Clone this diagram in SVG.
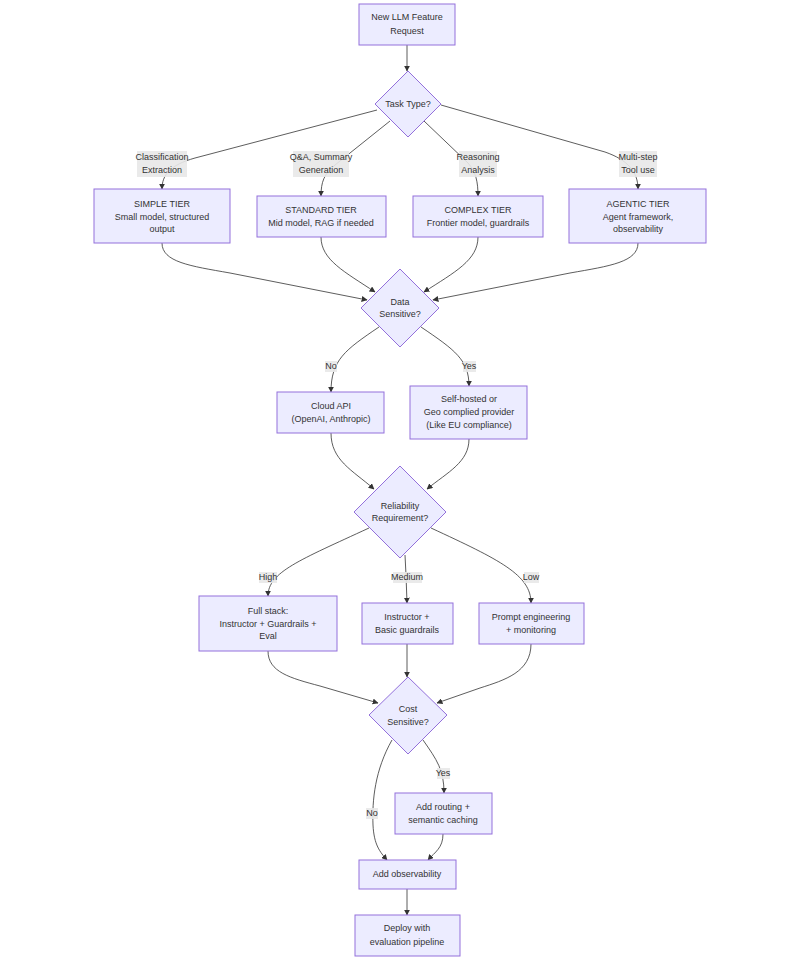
<svg xmlns="http://www.w3.org/2000/svg" width="800" height="960" viewBox="0 0 800 960">
<defs>
<marker id="arr" viewBox="0 0 10 10" refX="9" refY="5" markerWidth="6" markerHeight="6" orient="auto" markerUnits="userSpaceOnUse">
<path d="M0,0 L10,5 L0,10 z" fill="#333"/>
</marker>
<style>
.n{fill:#ECECFF;stroke:#9370DB;stroke-width:1}
.t{font-family:"Liberation Sans",Arial,sans-serif;font-size:9px;fill:#333;text-anchor:middle}
.e{fill:none;stroke:#333;stroke-width:0.8;marker-end:url(#arr)}
.lb{fill:#e8e8e8;opacity:0.9}
</style>
</defs>
<rect width="800" height="960" fill="#fff"/>
<g id="edges">
<path class="e" d="M407,45 L407,71"/>
<path class="e" d="M377,110 L195,158 C170,165 162,175 162,189"/>
<path class="e" d="M390,121 L335,165 C324,174 321,182 321,196"/>
<path class="e" d="M424,121 L468,163 C476,172 478,182 478,196"/>
<path class="e" d="M441,105 L605,152 C628,160 638,172 638,189"/>
<path class="e" d="M162,243 C162,262 190,266 230,273 L367,300"/>
<path class="e" d="M321,237 C321,260 345,272 375,292"/>
<path class="e" d="M478,237 C478,260 455,272 424,292"/>
<path class="e" d="M638,243 C638,262 610,266 570,273 L433,300"/>
<path class="e" d="M379,327 C345,350 331,360 331,392"/>
<path class="e" d="M421,327 C455,350 469,360 469,386"/>
<path class="e" d="M331,433 C331,460 352,470 374,489"/>
<path class="e" d="M469,439 C469,462 448,472 427,489"/>
<path class="e" d="M369,528 C300,560 268,572 268,596"/>
<path class="e" d="M405,555 L406,575 L407,603"/>
<path class="e" d="M431,528 C500,560 531,575 531,603"/>
<path class="e" d="M268,651 C268,672 290,678 320,686 L378,703"/>
<path class="e" d="M407,644 L407,677"/>
<path class="e" d="M531,644 C531,672 505,680 480,688 L437,703"/>
<path class="e" d="M423,740 C437,760 444,770 444,793"/>
<path class="e" d="M392,740 C375,770 372,800 373,825 C374,845 380,852 387,860"/>
<path class="e" d="M443,834 C443,848 435,852 428,860"/>
<path class="e" d="M407,889 L407,915"/>
</g>
<g id="edge-labels">
<g><rect class="lb" x="137" y="151" width="50" height="26"/><text class="t" x="162" y="160">Classification</text><text class="t" x="162" y="173">Extraction</text></g>
<g><rect class="lb" x="293" y="151" width="56" height="26"/><text class="t" x="321" y="160">Q&amp;A, Summary</text><text class="t" x="321" y="173">Generation</text></g>
<g><rect class="lb" x="459" y="151" width="38" height="26"/><text class="t" x="478" y="160">Reasoning</text><text class="t" x="478" y="173">Analysis</text></g>
<g><rect class="lb" x="619" y="151" width="38" height="26"/><text class="t" x="638" y="160">Multi-step</text><text class="t" x="638" y="173">Tool use</text></g>
<g><rect class="lb" x="325" y="361" width="12" height="11"/><text class="t" x="331" y="369">No</text></g>
<g><rect class="lb" x="463" y="361" width="13" height="11"/><text class="t" x="469" y="369">Yes</text></g>
<g><rect class="lb" x="259" y="572" width="18" height="11"/><text class="t" x="268" y="580">High</text></g>
<g><rect class="lb" x="393" y="572" width="29" height="11"/><text class="t" x="407" y="580">Medium</text></g>
<g><rect class="lb" x="524" y="572" width="15" height="11"/><text class="t" x="531" y="580">Low</text></g>
<g><rect class="lb" x="437" y="768" width="13" height="11"/><text class="t" x="443" y="776">Yes</text></g>
<g><rect class="lb" x="366" y="808" width="12" height="11"/><text class="t" x="372" y="816">No</text></g>
</g>
<g id="start"><rect class="n" x="359" y="4" width="96" height="41"/><text class="t" x="407" y="20">New LLM Feature</text><text class="t" x="407" y="34">Request</text></g>
<g id="task"><polygon class="n" points="408,71 441,104 408,137 375,104"/><text class="t" x="408" y="107">Task Type?</text></g>
<g id="simple"><rect class="n" x="94" y="189" width="136" height="54"/><text class="t" x="162" y="207">SIMPLE TIER</text><text class="t" x="162" y="220">Small model, structured</text><text class="t" x="162" y="232">output</text></g>
<g id="standard"><rect class="n" x="257" y="196" width="129" height="41"/><text class="t" x="321" y="213">STANDARD TIER</text><text class="t" x="321" y="226">Mid model, RAG if needed</text></g>
<g id="complex"><rect class="n" x="413" y="196" width="130" height="41"/><text class="t" x="478" y="213">COMPLEX TIER</text><text class="t" x="478" y="226">Frontier model, guardrails</text></g>
<g id="agentic"><rect class="n" x="569" y="189" width="137" height="54"/><text class="t" x="638" y="207">AGENTIC TIER</text><text class="t" x="638" y="220">Agent framework,</text><text class="t" x="638" y="232">observability</text></g>
<g id="data"><polygon class="n" points="400,269 439,308 400,347 361,308"/><text class="t" x="400" y="305">Data</text><text class="t" x="400" y="317">Sensitive?</text></g>
<g id="cloud"><rect class="n" x="277" y="392" width="107" height="41"/><text class="t" x="331" y="409">Cloud API</text><text class="t" x="331" y="422">(OpenAI, Anthropic)</text></g>
<g id="selfhosted"><rect class="n" x="410" y="386" width="117" height="53"/><text class="t" x="469" y="402">Self-hosted or</text><text class="t" x="469" y="415">Geo complied provider</text><text class="t" x="469" y="428">(Like EU compliance)</text></g>
<g id="reliability"><polygon class="n" points="400,466 446,512 400,558 354,512"/><text class="t" x="400" y="509">Reliability</text><text class="t" x="400" y="521">Requirement?</text></g>
<g id="full"><rect class="n" x="199" y="596" width="138" height="55"/><text class="t" x="268" y="614">Full stack:</text><text class="t" x="268" y="627">Instructor + Guardrails +</text><text class="t" x="268" y="639">Eval</text></g>
<g id="instructor"><rect class="n" x="362" y="603" width="91" height="41"/><text class="t" x="407" y="620">Instructor +</text><text class="t" x="407" y="633">Basic guardrails</text></g>
<g id="prompt"><rect class="n" x="479" y="603" width="105" height="41"/><text class="t" x="531" y="620">Prompt engineering</text><text class="t" x="531" y="633">+ monitoring</text></g>
<g id="cost"><polygon class="n" points="408,677 447,715 408,754 369,715"/><text class="t" x="408" y="712">Cost</text><text class="t" x="408" y="725">Sensitive?</text></g>
<g id="routing"><rect class="n" x="395" y="793" width="97" height="41"/><text class="t" x="443" y="810">Add routing +</text><text class="t" x="443" y="823">semantic caching</text></g>
<g id="observability"><rect class="n" x="359" y="860" width="97" height="29"/><text class="t" x="407" y="877">Add observability</text></g>
<g id="deploy"><rect class="n" x="355" y="915" width="105" height="41"/><text class="t" x="407" y="931">Deploy with</text><text class="t" x="407" y="945">evaluation pipeline</text></g>
</svg>
